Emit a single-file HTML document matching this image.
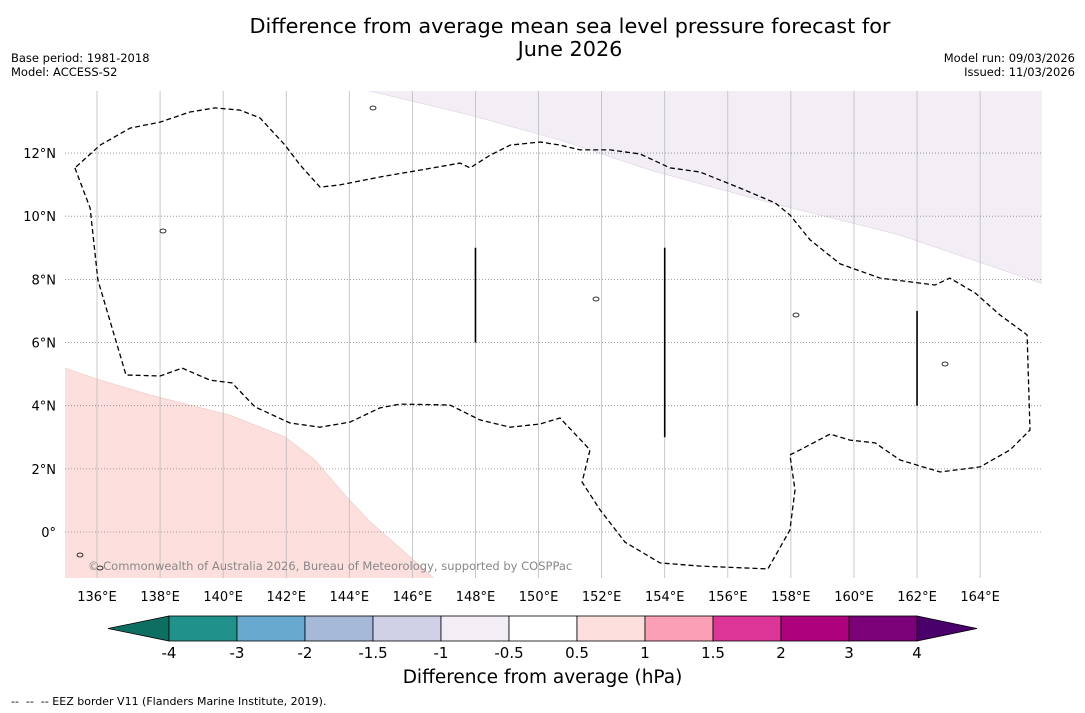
<!DOCTYPE html>
<html><head><meta charset="utf-8">
<style>
body{margin:0;background:#fff;font-family:"DejaVu Sans","Liberation Sans",sans-serif;}
#wrap{position:relative;width:1085px;height:713px;overflow:hidden;background:#fff;}
.t{position:absolute;color:#000;}
svg text{font-family:"DejaVu Sans","Liberation Sans",sans-serif;}
</style></head><body>
<div id="wrap">
<div class="t" style="left:120px;width:900px;top:15px;text-align:center;font-size:20.8px;line-height:23px;">Difference from average mean sea level pressure forecast for<br>June 2026</div>
<div class="t" style="left:11px;top:51px;font-size:11.5px;line-height:14px;">Base period: 1981-2018<br>Model: ACCESS-S2</div>
<div class="t" style="right:10px;top:51px;font-size:11.5px;line-height:14px;text-align:right;">Model run: 09/03/2026<br>Issued: 11/03/2026</div>
<svg id="map" width="1085" height="713" style="position:absolute;left:0;top:0"></svg>
<div class="t" style="left:300px;width:485px;top:667px;text-align:center;font-size:18.5px;">Difference from average (hPa)</div>
<div class="t" style="left:11px;top:695px;font-size:11px;">--&nbsp; --&nbsp; -- EEZ border V11 (Flanders Marine Institute, 2019).</div>
</div>
<script>
const lonTicks=[136,138,140,142,144,146,148,150,152,154,156,158,160,162,164];
const latTicks=[0,2,4,6,8,10,12];
const eezLon=[135.30,135.78,136.03,136.92,138.00,138.70,139.58,140.28,141.01,142.12,143.07,144.02,144.97,145.61,147.19,148.14,149.10,150.05,150.68,151.63,151.38,151.95,152.74,153.85,155.12,157.27,157.97,158.13,157.97,158.29,159.24,159.87,160.67,161.46,162.73,164.00,164.95,165.58,165.49,164.63,163.84,163.04,162.57,160.83,159.56,158.61,157.97,157.50,156.39,155.12,154.17,153.22,152.27,151.32,150.68,150.05,149.10,148.46,147.83,147.51,146.24,144.97,143.70,143.07,142.44,141.96,141.17,140.53,139.74,138.95,138.00,137.05,136.10,135.30];
const eezLat=[11.53,10.26,7.98,4.97,4.94,5.19,4.81,4.72,3.96,3.45,3.32,3.48,3.93,4.05,4.02,3.55,3.32,3.42,3.61,2.60,1.58,0.70,-0.32,-0.98,-1.08,-1.17,0.06,1.33,2.44,2.60,3.10,2.91,2.82,2.28,1.90,2.06,2.60,3.23,6.24,6.87,7.57,8.04,7.82,8.04,8.49,9.25,10.04,10.42,10.89,11.40,11.53,11.97,12.10,12.10,12.25,12.35,12.25,11.93,11.53,11.68,11.46,11.24,10.99,10.92,11.62,12.25,13.11,13.36,13.43,13.30,12.98,12.79,12.25,11.53];
const posLon=[134.9,136.10,137.68,138.95,140.22,141.96,142.91,143.86,144.66,145.61,146.72,134.9];
const posLat=[5.22,4.81,4.34,4.02,3.70,3.01,2.28,1.17,0.32,-0.51,-1.5,-1.5];
const negLon=[144.50,147.83,150.68,153.53,157.02,161.46,166.1,166.1];
const negLat=[14.0,13.20,12.41,11.46,10.51,9.40,7.82,14.0];
const segLon=[148,154,162];
const segLat0=[6,3,4];
const segLat1=[9,9,7];
const cbLevels=["-4","-3","-2","-1.5","-1","-0.5","0.5","1","1.5","2","3","4"];
const cbColors=["#21918c","#67a9cf","#a6b9d9","#d0d1e6","#f3eef5","#ffffff","#fde0dd","#fa9fb5","#dd3497","#ae017e","#7a0177"];
const X0=65,X1=1042,Y0=91,Y1=578;
const xs=lon=>97+(lon-136)*31.54;
const ys=lat=>532-lat*31.58;
const NS="http://www.w3.org/2000/svg";
const svg=document.getElementById('map');
function mk(t,a,p){const e=document.createElementNS(NS,t);for(const k in a)e.setAttribute(k,a[k]);(p||svg).appendChild(e);return e;}
const defs=mk('defs',{});const cp=mk('clipPath',{id:'c'},defs);mk('rect',{x:X0,y:Y0,width:X1-X0,height:Y1-Y0},cp);
const g=mk('g',{'clip-path':'url(#c)'});
function poly(lo,la){return lo.map((v,i)=>xs(v).toFixed(1)+','+ys(la[i]).toFixed(1)).join(' ');}
let e=mk('polygon',{points:poly(posLon,posLat),fill:'#fde0dd',stroke:'#e8c8c4','stroke-width':0.6},g);

e=mk('polygon',{points:poly(negLon,negLat),fill:'#f3eef5',stroke:'#ddd2e0','stroke-width':0.6},g);

lonTicks.forEach(l=>{const x=xs(l);
 const ln=mk('line',{x1:x,x2:x,y1:Y0,y2:Y1,stroke:'#bbb','stroke-width':0.8},g);
 
 const t=mk('text',{x:x,y:601,'text-anchor':'middle','font-size':13});t.textContent=l+'°E';
 });
latTicks.forEach(l=>{const y=ys(l);
 const ln=mk('line',{x1:X0,x2:X1,y1:y,y2:y,stroke:'#888','stroke-width':0.8,'stroke-dasharray':'1,2'},g);
 
 const t=mk('text',{x:56,y:y+5,'text-anchor':'end','font-size':13});t.textContent=l===0?'0°':l+'°N';
 });
e=mk('polyline',{points:poly(eezLon,eezLat),fill:'none',stroke:'#000','stroke-width':1.3,'stroke-dasharray':'5,3'},g);

segLon.forEach((l,i)=>{const s=mk('line',{x1:xs(l),x2:xs(l),y1:ys(segLat0[i]),y2:ys(segLat1[i]),stroke:'#000','stroke-width':1.6},g);
 });
[[373,108],[163,231],[596,299],[796,315],[945,364],[80,555],[100,568]].forEach(p=>{const c=mk('ellipse',{cx:p[0],cy:p[1],rx:3,ry:2,fill:'none',stroke:'#000','stroke-width':0.8},g);
 });
e=mk('text',{x:88,y:570,'font-size':11.5,fill:'#888'});e.textContent='© Commonwealth of Australia 2026, Bureau of Meteorology, supported by COSPPac';

const cbx0=169,cbx1=917,cby=616,cbh=25,bw=(cbx1-cbx0)/cbColors.length;
e=mk('polygon',{points:`108,${cby+cbh/2} ${cbx0},${cby} ${cbx0},${cby+cbh}`,fill:'#0d6f62',stroke:'#000','stroke-width':0.8});

e=mk('polygon',{points:`977,${cby+cbh/2} ${cbx1},${cby} ${cbx1},${cby+cbh}`,fill:'#49006a',stroke:'#000','stroke-width':0.8});

cbColors.forEach((c,i)=>{const r=mk('rect',{x:cbx0+i*bw,y:cby,width:bw,height:cbh,fill:c,stroke:'#000','stroke-width':0.8});
 });
cbLevels.forEach((l,i)=>{const t=mk('text',{x:cbx0+i*bw,y:658,'text-anchor':'middle','font-size':15});t.textContent=l;
 });
</script>
</body></html>
